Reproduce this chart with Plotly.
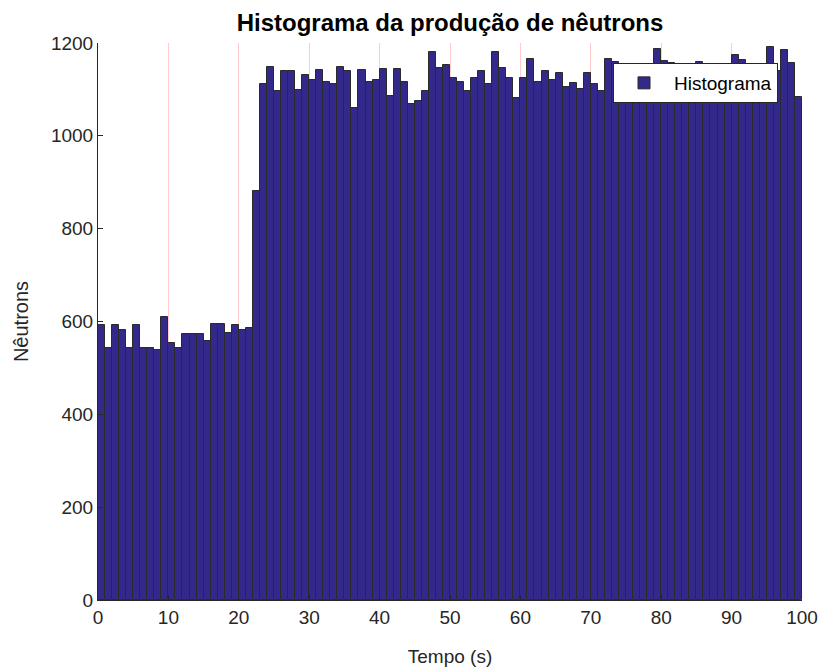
import numpy as np
import plotly.graph_objects as go

# Bin edges of the histogram (1 s bins from 0 to 100 s)
bin_edges = np.arange(0, 101, 1)
bin_centers = (bin_edges[:-1] + bin_edges[1:]) / 2

# Neutron counts per bin
counts_low = [593, 542, 593, 582, 542, 593, 542, 542, 539, 609, 554,
              542, 573, 573, 573, 557, 595, 595, 575, 593, 582, 585]
counts_rise = [882]
counts_high = [1111, 1149, 1097, 1140, 1140, 1099, 1131, 1121, 1142, 1117,
               1111, 1149, 1139, 1061, 1141, 1115, 1121, 1145, 1085, 1145,
               1117, 1068, 1075, 1097, 1180, 1146, 1153, 1124, 1115, 1097,
               1124, 1139, 1111, 1180, 1146, 1124, 1082, 1124, 1166, 1117,
               1139, 1121, 1135, 1106, 1114, 1101, 1135, 1111, 1097, 1166,
               1160, 1120, 1130, 1072, 1140, 1125, 1187, 1162, 1158, 1130,
               1080, 1145, 1160, 1120, 1135, 1110, 1080, 1175, 1164, 1140,
               1125, 1150, 1191, 1140, 1184, 1156, 1083]
counts = counts_low + counts_rise + counts_high

x_ticks = list(range(0, 101, 10))
y_ticks = list(range(0, 1201, 200))

axis_color = "#262626"
font_family = "Liberation Sans, Arial, sans-serif"

fig = go.Figure()
fig.add_trace(go.Bar(
    x=bin_centers,
    y=counts,
    width=1,
    name="Histograma",
    marker=dict(color="#33298a", line=dict(color="#2a2a2a", width=1)),
    showlegend=True,
))

fig.update_layout(
    width=821,
    height=670,
    margin=dict(l=98, r=19, t=43, b=70),
    paper_bgcolor="white",
    plot_bgcolor="white",
    font=dict(family=font_family, color=axis_color, size=20),
    title=dict(
        text="<b>Histograma da produção de nêutrons</b>",
        x=(98 + 802) / 2 / 821,
        xanchor="center",
        y=1 - 23 / 670,
        yanchor="middle",
        font=dict(size=24, color="#000000", family=font_family),
    ),
    bargap=0,
    legend=dict(
        x=(778 - 98) / 704,
        y=(600 - 63) / 557,
        xanchor="right",
        yanchor="top",
        bgcolor="white",
        bordercolor="#262626",
        borderwidth=1,
        itemwidth=50,
        font=dict(size=19, color="#000000"),
    ),
    showlegend=True,
)

fig.update_xaxes(
    range=[0, 100],
    tickvals=x_ticks,
    ticktext=[str(v) for v in x_ticks],
    showgrid=True,
    gridcolor="#ffcccc",
    gridwidth=1,
    zeroline=False,
    showline=True,
    linecolor=axis_color,
    linewidth=1,
    ticks="inside",
    ticklen=5,
    tickcolor=axis_color,
    tickfont=dict(size=19),
    automargin=False,
    title=dict(text="Tempo (s)", font=dict(size=19), standoff=22),
)

fig.update_yaxes(
    range=[0, 1200],
    tickvals=y_ticks,
    ticktext=[str(v) for v in y_ticks],
    showgrid=False,
    zeroline=False,
    showline=True,
    linecolor=axis_color,
    linewidth=1,
    ticks="inside",
    ticklen=5,
    tickcolor=axis_color,
    tickfont=dict(size=19),
    automargin=False,
    title=dict(text="Nêutrons", font=dict(size=20), standoff=16),
)

fig.write_html("out.html")
